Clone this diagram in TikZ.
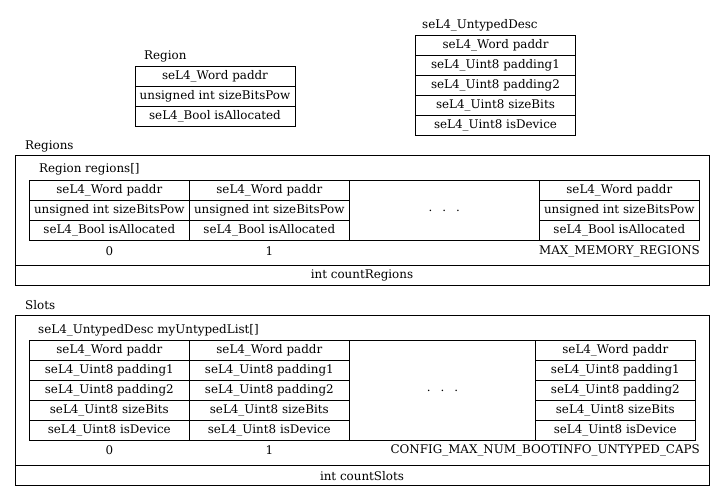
\documentclass[tikz,border=0pt]{standalone}
\usepackage{fontspec}
\setmainfont{DejaVu Serif}
\usetikzlibrary{positioning}

\tikzset{
    field/.style={draw, line width=0.8pt, minimum width=160pt, minimum height=20pt, inner sep=0pt, font=\fontsize{11.9}{14}\selectfont},
    title/.style={anchor=west, inner sep=0pt, font=\fontsize{11.9}{14}\selectfont},
    index/.style={inner sep=0pt, font=\fontsize{11.9}{14}\selectfont},
    frame/.style={draw, line width=0.8pt, minimum width=694pt, inner sep=0pt, font=\fontsize{11.9}{14}\selectfont}
}

\begin{document}
\begin{tikzpicture}[x=1pt,y=-1pt]
        \useasboundingbox (0,0) rectangle (725,501);

        \node[title] (Rt) at (144,56) {Region};
        \node[field] (R1) at (215,76) {seL4\_Word paddr};
        \node[field] (R2) at (215,96) {unsigned int sizeBitsPow};
        \node[field] (R3) at (215,116) {seL4\_Bool isAllocated};

        \node[title] (Ut) at (422,25) {seL4\_UntypedDesc};
        \node[field] (U1) at (495.5,45) {seL4\_Word paddr};
        \node[field] (U2) at (495.5,65) {seL4\_Uint8 padding1};
        \node[field] (U3) at (495.5,85) {seL4\_Uint8 padding2};
        \node[field] (U4) at (495.5,105) {seL4\_Uint8 sizeBits};
        \node[field] (U5) at (495.5,125) {seL4\_Uint8 isDevice};

        \node[title] (Gt) at (25,146) {Regions};
        \node[frame, minimum height=110pt] (G) at (362,210.7) {};
        \node[frame, minimum height=20pt] (Gc) at (362,275.7) {int countRegions};
        \node[title] (Gat) at (39,169) {Region regions[]};
        \node[field] (G01) at (109.3,190.7) {seL4\_Word paddr};
        \node[field] (G02) at (109.3,210.7) {unsigned int sizeBitsPow};
        \node[field] (G03) at (109.3,230.7) {seL4\_Bool isAllocated};
        \node[field] (G11) at (269.3,190.7) {seL4\_Word paddr};
        \node[field] (G12) at (269.3,210.7) {unsigned int sizeBitsPow};
        \node[field] (G13) at (269.3,230.7) {seL4\_Bool isAllocated};
        \node[field, minimum width=190pt, minimum height=60pt] (Gd) at (444.3,210.7) {.\hspace{10pt}.\hspace{10pt}.};
        \node[field] (GN1) at (619.3,190.7) {seL4\_Word paddr};
        \node[field] (GN2) at (619.3,210.7) {unsigned int sizeBitsPow};
        \node[field] (GN3) at (619.3,230.7) {seL4\_Bool isAllocated};
        \node[index] (Gi0) at (109.3,251) {0};
        \node[index] (Gi1) at (269.3,251) {1};
        \node[index, anchor=east] (GiN) at (700,251) {MAX\_MEMORY\_REGIONS};

        \node[title] (St) at (25,305) {Slots};
        \node[frame, minimum height=150pt] (S) at (362,390.7) {};
        \node[frame, minimum height=20pt] (Sc) at (362,475.7) {int countSlots};
        \node[title] (Sat) at (38,330) {seL4\_UntypedDesc myUntypedList[]};
        \node[field] (S01) at (109.3,350.7) {seL4\_Word paddr};
        \node[field] (S02) at (109.3,370.7) {seL4\_Uint8 padding1};
        \node[field] (S03) at (109.3,390.7) {seL4\_Uint8 padding2};
        \node[field] (S04) at (109.3,410.7) {seL4\_Uint8 sizeBits};
        \node[field] (S05) at (109.3,430.7) {seL4\_Uint8 isDevice};
        \node[field] (S11) at (269.3,350.7) {seL4\_Word paddr};
        \node[field] (S12) at (269.3,370.7) {seL4\_Uint8 padding1};
        \node[field] (S13) at (269.3,390.7) {seL4\_Uint8 padding2};
        \node[field] (S14) at (269.3,410.7) {seL4\_Uint8 sizeBits};
        \node[field] (S15) at (269.3,430.7) {seL4\_Uint8 isDevice};
        \node[field, minimum width=186.4pt, minimum height=100pt] (Sd) at (442.5,390.7) {.\hspace{10pt}.\hspace{10pt}.};
        \node[field, minimum width=159.3pt] (SN1) at (615.3,350.7) {seL4\_Word paddr};
        \node[field, minimum width=159.3pt] (SN2) at (615.3,370.7) {seL4\_Uint8 padding1};
        \node[field, minimum width=159.3pt] (SN3) at (615.3,390.7) {seL4\_Uint8 padding2};
        \node[field, minimum width=159.3pt] (SN4) at (615.3,410.7) {seL4\_Uint8 sizeBits};
        \node[field, minimum width=159.3pt] (SN5) at (615.3,430.7) {seL4\_Uint8 isDevice};
        \node[index] (Si0) at (109.3,450.5) {0};
        \node[index] (Si1) at (269.3,450.5) {1};
        \node[index, anchor=east] (SiN) at (700,450.5) {CONFIG\_MAX\_NUM\_BOOTINFO\_UNTYPED\_CAPS};
    \end{tikzpicture}
\end{document}
